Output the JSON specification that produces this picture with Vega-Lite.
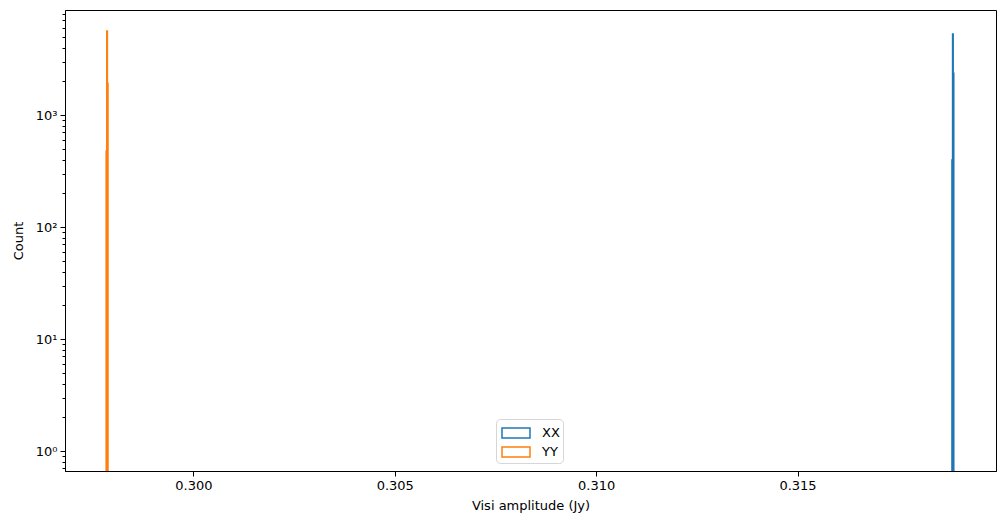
{
  "$schema": "https://vega.github.io/schema/vega-lite/v6.json",
  "description": "Histogram of visibility amplitude, XX and YY",
  "autosize": {"type": "none"},
  "padding": {"left": 65, "top": 10, "right": 8, "bottom": 54},
  "width": 931,
  "height": 461,
  "config": {
    "font": "DejaVu Sans",
    "view": {"stroke": "black", "strokeWidth": 1},
    "axis": {
      "domainColor": "black",
      "tickColor": "black",
      "labelColor": "black",
      "titleColor": "black",
      "labelFontSize": 13,
      "titleFontSize": 13,
      "titleFontWeight": "normal",
      "grid": false
    }
  },
  "data": {
    "values": [
      {"pol": "YY", "x0": 0.297835, "x1": 0.29785, "count": 477},
      {"pol": "YY", "x0": 0.29785, "x1": 0.297865, "count": 5620},
      {"pol": "YY", "x0": 0.297865, "x1": 0.29788, "count": 1918},
      {"pol": "XX", "x0": 0.318835, "x1": 0.31885, "count": 396},
      {"pol": "XX", "x0": 0.31885, "x1": 0.318865, "count": 5290},
      {"pol": "XX", "x0": 0.318865, "x1": 0.31888, "count": 2356}
    ]
  },
  "mark": {"type": "rect", "filled": false, "strokeWidth": 1.5, "clip": true},
  "encoding": {
    "x": {
      "field": "x0",
      "type": "quantitative",
      "title": "Visi amplitude (Jy)",
      "scale": {"domain": [0.296813, 0.319928], "nice": false, "zero": false},
      "axis": {
        "values": [0.3, 0.305, 0.31, 0.315],
        "format": ".3f",
        "tickSize": 5,
        "labelPadding": 3,
        "titlePadding": 7
      }
    },
    "x2": {"field": "x1"},
    "y": {
      "field": "count",
      "type": "quantitative",
      "title": "Count",
      "scale": {"type": "log", "domain": [0.663, 8660], "nice": false},
      "axis": {
        "values": [0.7, 0.8, 0.9, 1, 2, 3, 4, 5, 6, 7, 8, 9, 10, 20, 30, 40, 50, 60, 70, 80, 90, 100, 200, 300, 400, 500, 600, 700, 800, 900, 1000, 2000, 3000, 4000, 5000, 6000, 7000, 8000],
        "labelExpr": "datum.value == 1 ? '10⁰' : datum.value == 10 ? '10¹' : datum.value == 100 ? '10²' : datum.value == 1000 ? '10³' : ''",
        "tickSize": {"condition": {"test": "datum.value == 1 || datum.value == 10 || datum.value == 100 || datum.value == 1000", "value": 5}, "value": 3},
        "labelPadding": 3,
        "titlePadding": 10
      }
    },
    "y2": {"datum": 0.1},
    "stroke": {
      "field": "pol",
      "type": "nominal",
      "title": null,
      "scale": {"domain": ["XX", "YY"], "range": ["#1f77b4", "#ff7f0e"]},
      "legend": {
        "orient": "none",
        "legendX": 431,
        "legendY": 409,
        "symbolType": "M-1.4,-0.5H1.4V0.5H-1.4Z",
        "symbolSize": 400,
        "symbolStrokeWidth": 1.5,
        "symbolFillColor": "white",
        "symbolOffset": 6,
        "labelFontSize": 13,
        "labelColor": "black",
        "labelOffset": 15,
        "rowPadding": 0,
        "padding": 3,
        "strokeColor": "#d6d6d6",
        "fillColor": "white",
        "cornerRadius": 4
      }
    }
  }
}
